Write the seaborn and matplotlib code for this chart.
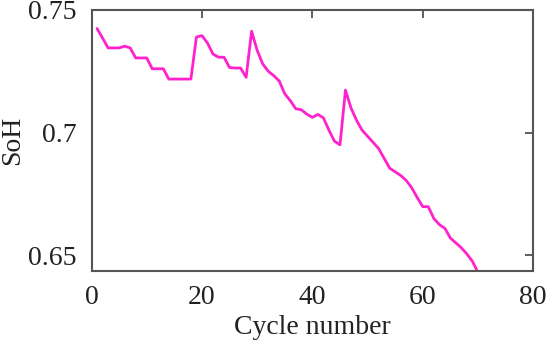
import matplotlib
matplotlib.use("Agg")
import matplotlib.pyplot as plt
import seaborn as sns
import pandas as pd
import numpy as np

cycles = list(range(1, 71))
soh = [0.7424, 0.7385, 0.7345, 0.7345, 0.7345, 0.7352, 0.7345, 0.7304, 0.7304, 0.7304,
       0.7260, 0.7260, 0.7260, 0.7218, 0.7218, 0.7218, 0.7218, 0.7218, 0.7389, 0.7395,
       0.7365, 0.7320, 0.7307, 0.7307, 0.7265, 0.7263, 0.7263, 0.7225, 0.7413, 0.7335,
       0.7280, 0.7250, 0.7232, 0.7210, 0.7158, 0.7130, 0.7097, 0.7093, 0.7075, 0.7062,
       0.7074, 0.7060, 0.7010, 0.6965, 0.6950, 0.7173, 0.7100, 0.7050, 0.7010, 0.6985,
       0.6960, 0.6935, 0.6895, 0.6855, 0.6840, 0.6825, 0.6805, 0.6775, 0.6735, 0.6698,
       0.6698, 0.6650, 0.6625, 0.6610, 0.6570, 0.6550, 0.6530, 0.6505, 0.6475, 0.6430]
xticks = [0, 20, 40, 60, 80]
yticks = [0.65, 0.7, 0.75]
ytick_labels = ["0.65", "0.7", "0.75"]

sns.set_theme(style="white")
plt.rcParams['font.family'] = ['Liberation Serif', 'DejaVu Serif']

df = pd.DataFrame({"Cycle number": cycles, "SoH": soh})

fig = plt.figure(figsize=(5.48, 3.40), dpi=100)
ax = fig.add_axes([0.167, 0.203, 0.806, 0.768])
sns.lineplot(data=df, x="Cycle number", y="SoH", ax=ax, color="#ff22cc", linewidth=2.0)

ax.set_xlim(0, 80)
ax.set_ylim(0.6436, 0.75)
ax.set_xticks(xticks)
ax.set_yticks(yticks)
ax.set_yticklabels(ytick_labels)
ax.tick_params(direction="in", length=6, width=1.2, color="#444444",
               top=True, right=True, labelsize=20, labelcolor="#222222")
ax.tick_params(axis="x", pad=10)
ax.tick_params(axis="y", pad=11)
for s in ax.spines.values():
    s.set_color("#555555")
    s.set_linewidth(1.5)
    s.set_visible(True)
ax.set_xlabel("Cycle number", fontsize=20, color="#222222", labelpad=4)
ax.set_ylabel("SoH", fontsize=20, color="#222222", labelpad=2)

fig.savefig("out.png", dpi=100)
